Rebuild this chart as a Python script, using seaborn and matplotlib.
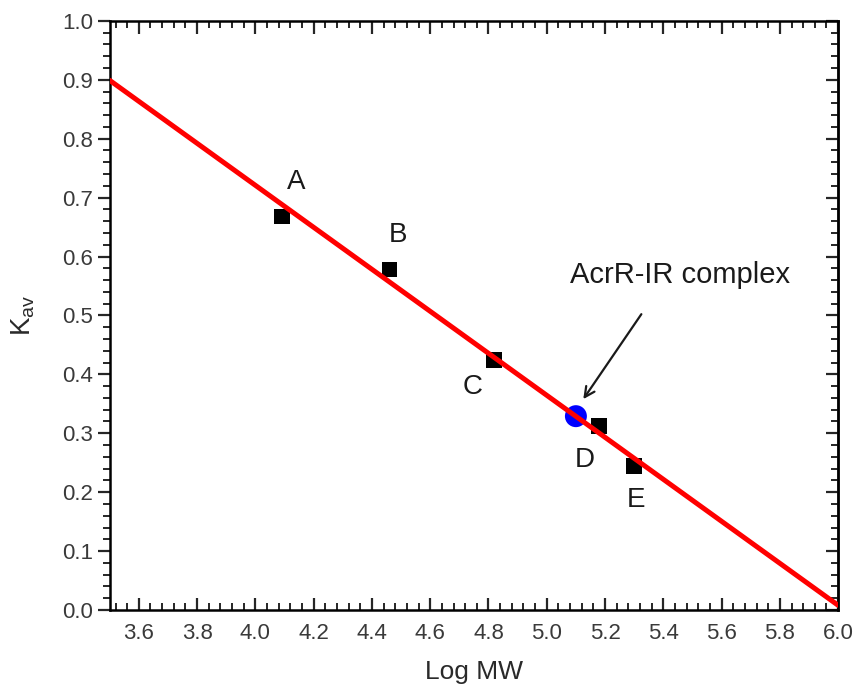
import matplotlib
matplotlib.use('Agg')
import matplotlib.pyplot as plt
from matplotlib.ticker import MultipleLocator
import pandas as pd
import seaborn as sns

# standards (log MW, Kav)
std_names = ['A', 'B', 'C', 'D', 'E']
std_logmw = [4.09, 4.46, 4.82, 5.18, 5.30]
std_kav = [0.668, 0.578, 0.424, 0.312, 0.245]

# AcrR-IR complex
cplx_logmw = [5.10]
cplx_kav = [0.329]

# linear fit drawn across the axis range
fit_logmw = [3.5, 6.0]
fit_kav = [0.899, 0.008]

std_df = pd.DataFrame({'logmw': std_logmw, 'kav': std_kav, 'name': std_names})
cplx_df = pd.DataFrame({'logmw': cplx_logmw, 'kav': cplx_kav})
fit_df = pd.DataFrame({'logmw': fit_logmw, 'kav': fit_kav})

sns.set_style('white')
plt.rcParams['font.family'] = ['Liberation Sans', 'DejaVu Sans']
plt.rcParams['mathtext.fontset'] = 'custom'
plt.rcParams['mathtext.rm'] = 'Liberation Sans'

txt = '#1a1a1a'
fig = plt.figure(figsize=(8.57, 6.94), dpi=100)
ax = fig.add_axes([0.128, 0.121, 0.850, 0.849])

sns.lineplot(data=fit_df, x='logmw', y='kav', ax=ax, color='#ff0000',
             linewidth=3.6, zorder=3)
sns.scatterplot(data=std_df, x='logmw', y='kav', ax=ax, marker='s',
                color='black', s=130, edgecolor='none', zorder=2)
sns.scatterplot(data=cplx_df, x='logmw', y='kav', ax=ax, marker='o',
                color='#0000ff', s=250, edgecolor='none', zorder=2)

# point labels (positions in data units)
label_pos = {'A': (4.14, 0.727), 'B': (4.49, 0.637), 'C': (4.745, 0.379),
             'D': (5.13, 0.255), 'E': (5.305, 0.187)}
for n in std_names:
    lx, ly = label_pos[n]
    ax.text(lx, ly, n, fontsize=20, color=txt, ha='center', va='center')

ax.annotate('', xy=(5.12, 0.354), xytext=(5.33, 0.506),
            arrowprops=dict(arrowstyle='->', color=txt, lw=1.6,
                            mutation_scale=18))
ax.text(5.457, 0.569, 'AcrR-IR complex', fontsize=21, color=txt,
        ha='center', va='center')

ax.xaxis.set_major_locator(MultipleLocator(0.2))
ax.xaxis.set_minor_locator(MultipleLocator(0.04))
ax.yaxis.set_major_locator(MultipleLocator(0.1))
ax.yaxis.set_minor_locator(MultipleLocator(0.02))
ax.xaxis.set_major_formatter(plt.FormatStrFormatter('%.1f'))
ax.yaxis.set_major_formatter(plt.FormatStrFormatter('%.1f'))
# no label at 3.5 in the corner
ax.set_xticks([3.6, 3.8, 4.0, 4.2, 4.4, 4.6, 4.8, 5.0, 5.2, 5.4, 5.6, 5.8, 6.0])
ax.set_xlim(3.5, 6.0)
ax.set_ylim(0.0, 1.0)

for s in ax.spines.values():
    s.set_linewidth(1.8)
    s.set_color('black')

ax.tick_params(axis='x', which='both', direction='in', top=True, bottom=True,
               labelsize=16, labelcolor='#3a3a3a', pad=9)
ax.tick_params(axis='y', which='both', direction='out', left=True,
               labelsize=16, labelcolor='#3a3a3a', pad=3)
ax.tick_params(which='major', length=9, width=1.6)
ax.tick_params(which='minor', length=5, width=1.4)

# right side ticks point inward
sec = ax.secondary_yaxis('right')
sec.yaxis.set_major_locator(MultipleLocator(0.1))
sec.yaxis.set_minor_locator(MultipleLocator(0.02))
sec.tick_params(which='both', direction='in', labelright=False)
sec.tick_params(which='major', length=9, width=1.6)
sec.tick_params(which='minor', length=5, width=1.4)
sec.spines['right'].set_linewidth(1.8)

ax.set_xlabel('Log MW', fontsize=19, color='#2a2a2a', labelpad=12)
ax.set_ylabel(r'K$_\mathregular{av}$', fontsize=20, color='#2a2a2a', labelpad=18)

fig.savefig('out.png', dpi=100)
